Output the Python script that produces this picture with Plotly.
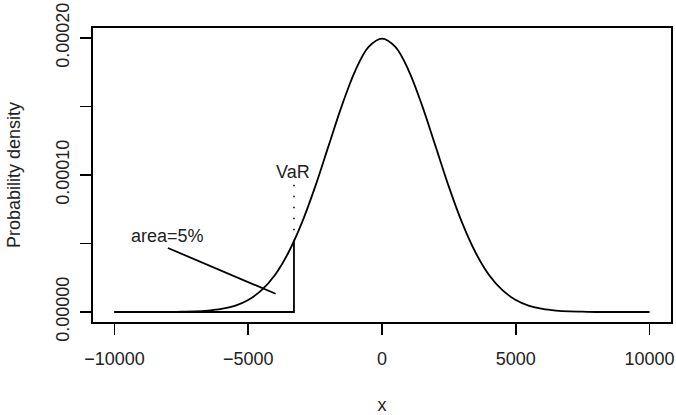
import plotly.graph_objects as go

# Density curve values (x, density)
x_vals = [-10000, -9500, -9000, -8500, -8000, -7500, -7000, -6500, -6000, -5500,
          -5000, -4500, -4000, -3500, -3000, -2500, -2000, -1500, -1000, -500,
          0, 500, 1000, 1500, 2000, 2500, 3000, 3500, 4000, 4500,
          5000, 5500, 6000, 6500, 7000, 7500, 8000, 8500, 9000, 9500, 10000]
y_vals = [0.0, 0.0, 0.0, 0.0, 0.0, 0.0000002, 0.0000004, 0.0000010, 0.0000022, 0.0000045,
          0.0000088, 0.0000159, 0.0000270, 0.0000432, 0.0000648, 0.0000913, 0.0001210, 0.0001506, 0.0001760, 0.0001934,
          0.0001995, 0.0001934, 0.0001760, 0.0001506, 0.0001210, 0.0000913, 0.0000648, 0.0000432, 0.0000270, 0.0000159,
          0.0000088, 0.0000045, 0.0000022, 0.0000010, 0.0000004, 0.0000002, 0.0, 0.0, 0.0, 0.0, 0.0]

var_x = -3290
var_density = 0.0000516
var_dot_top = 0.0000928
tail_start = -10000

pointer_x = [-8000, -3975]
pointer_y = [0.0000467, 0.0000133]

x_ticks = [-10000, -5000, 0, 5000, 10000]
x_ticklabels = ["\u221210000", "\u22125000", "0", "5000", "10000"]
y_ticks = [0.0, 0.00005, 0.0001, 0.00015, 0.0002]
y_ticklabels = ["0.00000", "", "0.00010", "", "0.00020"]

FONT = "Liberation Sans, Arial, Helvetica, sans-serif"
TXT = "#222"
LW = 1.8

fig = go.Figure()
fig.add_trace(go.Scatter(x=x_vals, y=y_vals, mode="lines",
                         line=dict(color="black", width=LW, shape="spline", smoothing=1.0),
                         showlegend=False, hoverinfo="skip"))
# tail region outline
fig.add_trace(go.Scatter(x=[tail_start, var_x, var_x], y=[0, 0, var_density], mode="lines",
                         line=dict(color="black", width=LW), showlegend=False, hoverinfo="skip"))
# dotted VaR marker
fig.add_trace(go.Scatter(x=[var_x, var_x], y=[var_density, var_dot_top], mode="lines",
                         line=dict(color="black", width=1.5, dash="1.5px,9.5px"),
                         showlegend=False, hoverinfo="skip"))
# pointer
fig.add_trace(go.Scatter(x=pointer_x, y=pointer_y, mode="lines",
                         line=dict(color="black", width=LW), showlegend=False, hoverinfo="skip"))

fig.add_annotation(x=-8000, y=0.0000556, text="area=5%", showarrow=False,
                   font=dict(family=FONT, size=18, color=TXT))
fig.add_annotation(x=-3328, y=0.0001025, text="VaR", showarrow=False,
                   font=dict(family=FONT, size=18, color=TXT))

axis_common = dict(showline=True, linecolor="black", linewidth=LW, mirror=True,
                   ticks="outside", ticklen=11, tickwidth=LW, tickcolor="black",
                   showgrid=False, zeroline=False,
                   tickfont=dict(family=FONT, size=18, color=TXT))

fig.update_xaxes(range=[-10800, 10800], tickvals=x_ticks, ticktext=x_ticklabels,
                 ticklabelstandoff=9,
                 title=dict(text="x", font=dict(family=FONT, size=18, color=TXT), standoff=31),
                 **axis_common)
fig.update_yaxes(range=[-0.0000073, 0.0002072], tickvals=y_ticks, ticktext=y_ticklabels,
                 tickangle=-90, ticklabelstandoff=4,
                 title=dict(text="Probability density", font=dict(family=FONT, size=18, color=TXT), standoff=28),
                 **axis_common)

fig.update_layout(width=676, height=415, margin=dict(l=93, r=5, t=28, b=93, autoexpand=False),
                  plot_bgcolor="white", paper_bgcolor="white", hovermode=False)

fig.write_html("out.html", config={"displayModeBar": False, "staticPlot": True},
               post_script="document.body.style.margin='0';")
